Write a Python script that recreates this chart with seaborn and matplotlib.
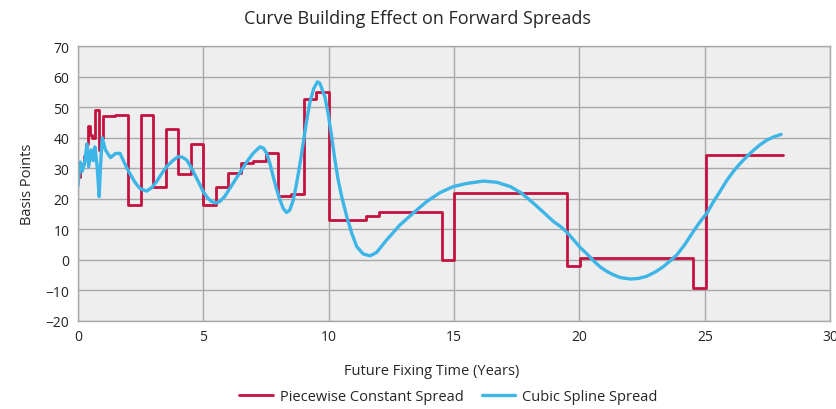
import pandas as pd
import seaborn as sns
import matplotlib
matplotlib.use('Agg')
import matplotlib.pyplot as plt

# piecewise constant spread (start of each step, level)
red_t = [0, 0.08, 0.25, 0.33, 0.42, 0.5, 0.58, 0.7, 0.83, 0.92, 1.0, 1.5, 2.0, 2.5, 3.0,
         3.5, 4.0, 4.5, 5.0, 5.5, 6.0, 6.5, 7.0, 7.5, 8.0, 8.5, 9.0, 9.5, 10.03, 11.49, 12.02,
         14.5, 15.0, 19.52, 20.02, 24.52, 25.04, 28.1]
red_v = [27, 31.5, 34, 38, 44, 41, 40, 49, 36, 40, 47.2, 47.6, 18, 47.6, 24,
         43, 28, 37.8, 17.8, 24, 28.6, 31.8, 32.5, 35, 21, 21.4, 52.6, 55.1, 13.1, 14.5, 15.8,
         0.1, 21.8, -2.0, 0.5, -9.4, 34.5, 34.5]

# cubic spline spread
blue_t = [0.0, 0.1, 0.17, 0.26, 0.37, 0.43, 0.53, 0.61, 0.68, 0.77, 0.85, 0.9, 0.97, 1.1,
          1.3, 1.5, 1.68, 1.87, 2.07, 2.27, 2.47, 2.74, 2.94, 3.14, 3.34, 3.54, 3.77, 4.0,
          4.17, 4.34, 4.5, 4.67, 4.84, 5.0, 5.17, 5.33, 5.5, 5.66, 5.86, 6.06, 6.3, 6.53,
          6.76, 6.99, 7.26, 7.4, 7.53, 7.66, 7.79, 7.92, 8.06, 8.19, 8.32, 8.45, 8.59, 8.72,
          8.86, 9.0, 9.12, 9.25, 9.4, 9.55, 9.65, 9.85, 9.98, 10.12, 10.25, 10.38, 10.52,
          10.72, 10.92, 11.12, 11.38, 11.65, 11.91, 12.31, 12.84, 13.37, 13.91, 14.44, 14.97,
          15.5, 16.17, 16.7, 17.24, 17.7, 18.17, 18.6, 18.97, 19.23, 19.5, 19.76, 20.03,
          20.29, 20.56, 20.82, 21.09, 21.35, 21.62, 22.02, 22.35, 22.68, 23.02, 23.35, 23.62,
          23.88, 24.2, 24.54, 24.81, 25.08, 25.34, 25.61, 25.88, 26.14, 26.41, 26.68, 26.94,
          27.2, 27.47, 27.75, 28.04]
blue_v = [24, 32, 29, 31.5, 38, 30.5, 36, 32.5, 37, 30.5, 20.7, 30, 40, 36,
          33.5, 34.8, 34.9, 31.5, 28.3, 25.5, 23.4, 22.5, 23.6, 25.6, 28.2, 30.5, 32.4, 33.8,
          33.6, 32.7, 30.5, 27.8, 25, 22.3, 20.3, 19.1, 18.6, 19.1, 20.8, 23.4, 26.5, 29.4,
          32.4, 34.9, 37.0, 36.6, 34.9, 31.5, 27.2, 23.2, 19.6, 16.8, 15.5, 16.3, 19.6, 25,
          31.6, 39, 45.5, 51.5, 56, 58.3, 57.8, 53.4, 47.9, 40.3, 32.7, 26.1, 20.7,
          14.2, 8.7, 4.3, 1.9, 1.3, 2.4, 6.5, 11.4, 15.3, 19.1, 22.0, 24.0,
          25.0, 25.8, 25.4, 24, 21.8, 18.5, 15.3, 12.5, 11, 9, 6.6, 4.0,
          2.0, -0.3, -2.3, -3.8, -4.9, -5.8, -6.3, -6.1, -5.4, -4.0, -2.2, -0.3,
          1.6, 5, 9.3, 12.5, 15.3, 19, 22.5, 26.1, 29, 31.6, 33.9, 35.9,
          37.7, 39.2, 40.3, 41.1]

df_red = pd.DataFrame({'t': red_t, 'v': red_v})
df_blue = pd.DataFrame({'t': blue_t, 'v': blue_v})

sns.set_style('whitegrid', {'axes.facecolor': '#eeeeee', 'grid.color': '#a8a8a8',
                            'axes.edgecolor': '#a8a8a8'})
plt.rcParams['font.family'] = ['Open Sans', 'DejaVu Sans']

fig, ax = plt.subplots(figsize=(8.37, 4.10), dpi=100)
fig.subplots_adjust(left=0.093, right=0.992, top=0.885, bottom=0.215)

sns.lineplot(data=df_red, x='t', y='v', ax=ax, color='#c4123f', linewidth=2.0,
             drawstyle='steps-post', estimator=None, sort=False,
             label='Piecewise Constant Spread')
sns.lineplot(data=df_blue, x='t', y='v', ax=ax, color='#3db5e6', linewidth=2.4,
             estimator=None, sort=False, label='Cubic Spline Spread')

ax.set_xlim(0, 30)
ax.set_ylim(-20, 70)
ax.set_xticks(range(0, 31, 5))
ax.set_yticks(range(-20, 71, 10))
ax.grid(True, linewidth=1.0)
ax.tick_params(length=0, labelsize=10, colors='#222222', pad=6)
for s in ax.spines.values():
    s.set_linewidth(1.0)

# titulo e eixos
fig.suptitle('Curve Building Effect on Forward Spreads', fontsize=13, x=0.499, y=0.975)
ax.set_xlabel('Future Fixing Time (Years)', fontsize=10.5, labelpad=12, fontweight='medium')
ax.xaxis.set_label_coords(0.47, -0.155)
ax.set_ylabel('Basis Points', fontsize=10.5, labelpad=8, fontweight='medium')

h, l = ax.get_legend_handles_labels()
ax.get_legend().remove()
fig.legend(h, l, loc='center', bbox_to_anchor=(0.536, 0.03), ncol=2, frameon=False,
           fontsize=10.5, handlelength=2.3, handletextpad=0.5, columnspacing=1.2)

fig.savefig('out.png', dpi=100)
